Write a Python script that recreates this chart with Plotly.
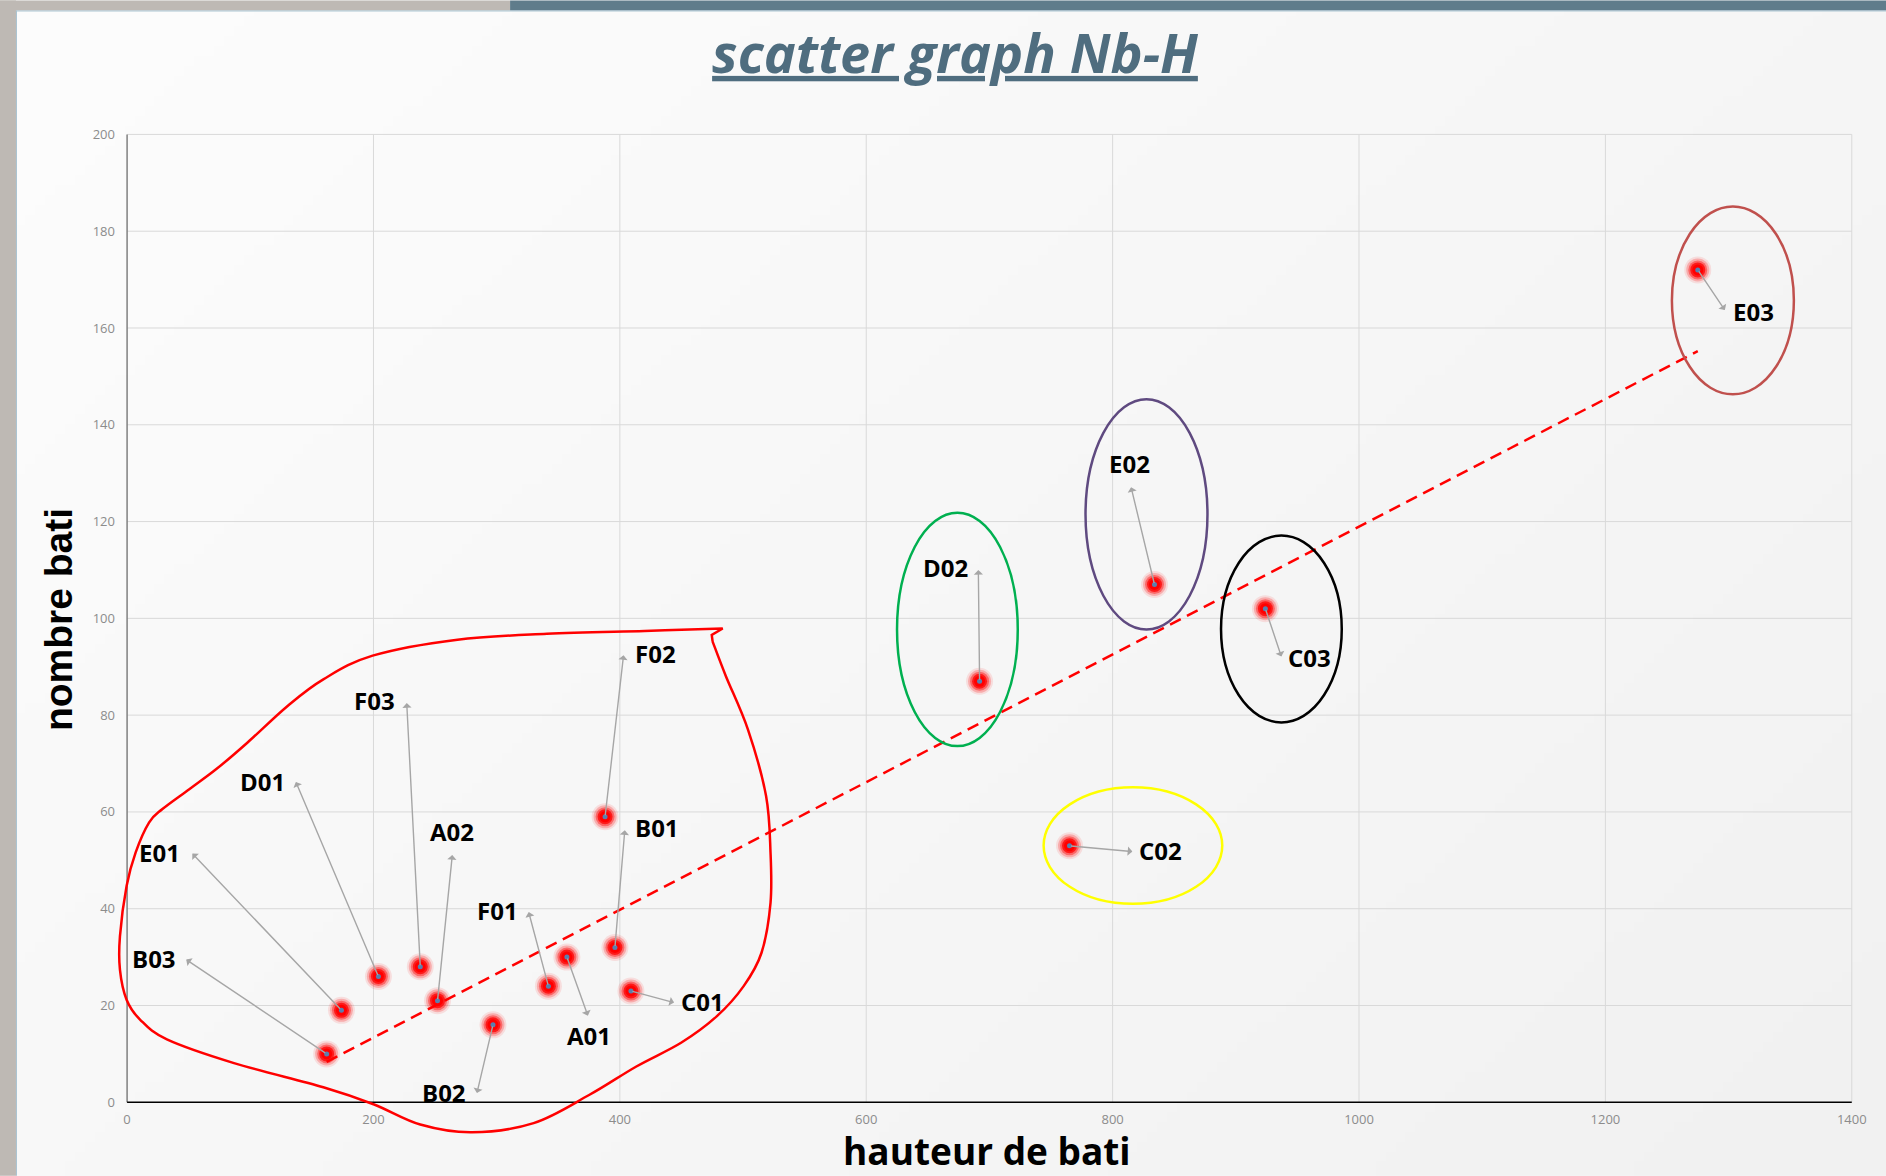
import base64
import struct
import zlib

import numpy as np
import plotly.graph_objects as go

# ---------------------------------------------------------------- data
codes = ["B03", "E01", "D01", "F03", "A02", "B02", "F01", "A01",
         "F02", "B01", "C01", "D02", "C02", "E02", "C03", "E03"]
hauteur = [162, 174, 204, 238, 252, 297, 342, 357,
           388, 396, 409, 692, 765, 834, 924, 1275]
nombre = [10, 19, 26, 28, 21, 16, 24, 30,
          59, 32, 23, 87, 53, 107, 102, 172]

x_ticks = [0, 200, 400, 600, 800, 1000, 1200, 1400]
y_ticks = [0, 20, 40, 60, 80, 100, 120, 140, 160, 180, 200]

# ---------------------------------------------------------------- label layout
# arrow tip (end of the grey leader) and text centre, in axis units
label_tip = {
    "B03": (48, 29.5), "E01": (53, 51.4), "D01": (137, 66.2), "F03": (227, 82.5),
    "A02": (264, 51.1), "B02": (284, 1.9), "F01": (326, 39.3), "A01": (374, 17.9),
    "F02": (403, 92.4), "B01": (404, 56.2), "C01": (444, 20.6), "D02": (691, 110),
    "C02": (816, 51.8), "E02": (815, 127.1), "C03": (937, 92.1), "E03": (1297, 163.7),
}
label_text = {
    "B03": (22, 29.7), "E01": (26, 51.6), "D01": (110, 66.3), "F03": (201, 83),
    "A02": (264, 55.9), "B02": (257, 2.1), "F01": (301, 39.7), "A01": (375, 13.8),
    "F02": (429, 92.8), "B01": (430, 56.7), "C01": (467, 20.9), "D02": (664, 110.6),
    "C02": (839, 52), "E02": (814, 131.9), "C03": (960, 92), "E03": (1320, 163.4),
}

# hand-drawn group outlines: (x0, x1, y0, y1, colour)
ellipses = [
    (625, 723, 73.6, 121.8, "#00B050"),
    (778, 877, 97.7, 145.3, "#5F4A80"),
    (888, 986, 78.5, 117.1, "#000000"),
    (744, 889, 41.0, 65.1, "#FFFF00"),
    (1254, 1353, 146.3, 185.1, "#C0504D"),
]

# free-hand outline around the low-rise cluster (smooth part)
cluster_outline = [
    (475.3, 95.2), (486, 88.1), (504, 77), (518.7, 63.3), (522.3, 51.6),
    (522.3, 41.2), (515, 30.9), (500.5, 24), (478.8, 17.8), (449.7, 12.3),
    (413.4, 7.4), (375, 1.5), (330, -4.3), (280, -6.2), (238, -4.6),
    (200, -0.4), (159.3, 3.1), (86.8, 8.1), (32.3, 13.0), (10.5, 17.1),
    (-0.4, 21.2), (-5.8, 27.4), (-5.8, 34.3), (-0.4, 44.7), (6.9, 51.6),
    (17.8, 57.8), (28.7, 60.6), (50.5, 64.7), (72.2, 68.8), (97.6, 74.3),
    (130.3, 81.9), (159.3, 87.4), (199.3, 92.3), (268.2, 95.6), (340.8, 96.8),
    (420, 97.4), (483.5, 97.9),
]
# the pen's little hook where the stroke closes
cluster_hook = [(474.6, 96.6), (475.3, 95.2)]

# ---------------------------------------------------------------- geometry
W, H = 1886, 1176
X_RANGE = [-9, 1401]
Y_RANGE = [-8, 200.5]
M_L, M_R, M_T, M_B = 116, 33.4, 131.6, 34.8
PW, PH = W - M_L - M_R, H - M_T - M_B


def px_x(px):
    return (px - M_L) / PW


def px_y(py):
    return (H - M_B - py) / PH


def smooth_path(pts, tail=()):
    """Catmull-Rom spline through pts as an SVG path, then straight tail segments."""
    p = np.asarray(pts, dtype=float)
    out = [f"M {p[0][0]:.2f},{p[0][1]:.2f}"]
    n = len(p)
    for i in range(n - 1):
        p0 = p[i - 1] if i > 0 else p[i]
        p1, p2 = p[i], p[i + 1]
        p3 = p[i + 2] if i + 2 < n else p[i + 1]
        c1 = p1 + (p2 - p0) / 6.0
        c2 = p2 - (p3 - p1) / 6.0
        out.append(f"C {c1[0]:.2f},{c1[1]:.2f} {c2[0]:.2f},{c2[1]:.2f} {p2[0]:.2f},{p2[1]:.2f}")
    for x, y in tail:
        out.append(f"L {x:.2f},{y:.2f}")
    return " ".join(out)


def png_uri(rgb):
    h, w, _ = rgb.shape
    raw = b"".join(b"\x00" + rgb[r].tobytes() for r in range(h))

    def chunk(tag, data):
        c = struct.pack(">I", len(data)) + tag + data
        return c + struct.pack(">I", zlib.crc32(tag + data) & 0xFFFFFFFF)

    png = (b"\x89PNG\r\n\x1a\n"
           + chunk(b"IHDR", struct.pack(">IIBBBBB", w, h, 8, 2, 0, 0, 0))
           + chunk(b"IDAT", zlib.compress(raw, 9))
           + chunk(b"IEND", b""))
    return "data:image/png;base64," + base64.b64encode(png).decode()


# soft diagonal slide background
gw, gh = 190, 118
gx, gy = np.meshgrid(np.arange(gw) / gw, np.arange(gh) / gh)
t = np.clip(0.6 * gx + 0.4 * gy, 0, 1)
shade = (253 - 12 * t).astype(np.uint8)
bg = np.dstack([shade, shade, shade]).astype(np.uint8)

# ---------------------------------------------------------------- figure
fig = go.Figure()

# linear trend line over the observed range
slope, intercept = np.polyfit(hauteur, nombre, 1)
tx = np.array([min(hauteur), max(hauteur)], dtype=float)
fig.add_trace(go.Scatter(
    x=tx, y=slope * tx + intercept, mode="lines",
    line=dict(color="#FF0000", width=2.5, dash="12px,7px"),
    hoverinfo="skip", showlegend=False,
))

# glowing red points with a small blue core
for size, colour in [(27, "rgba(255,0,0,0.10)"), (23, "rgba(255,0,0,0.22)"),
                     (19, "rgba(255,0,0,0.40)"), (15, "rgba(255,0,0,0.75)"),
                     (11, "#FF0000"), (5, "#5B7FAE")]:
    fig.add_trace(go.Scatter(
        x=hauteur, y=nombre, mode="markers",
        marker=dict(size=size, color=colour, line=dict(width=0)),
        text=codes, hoverinfo="text" if size == 5 else "skip", showlegend=False,
    ))

shapes = []
# gridlines and axis lines stop at the origin
for xv in x_ticks[1:]:
    shapes.append(dict(type="line", xref="x", yref="y", x0=xv, x1=xv, y0=0, y1=200,
                       line=dict(color="#D9D9D9", width=1), layer="below"))
for yv in y_ticks[1:]:
    shapes.append(dict(type="line", xref="x", yref="y", x0=0, x1=1400, y0=yv, y1=yv,
                       line=dict(color="#D9D9D9", width=1), layer="below"))
shapes.append(dict(type="line", xref="x", yref="y", x0=0, x1=0, y0=0, y1=200,
                   line=dict(color="#808080", width=1.5), layer="below"))
shapes.append(dict(type="line", xref="x", yref="y", x0=0, x1=1400, y0=0, y1=0,
                   line=dict(color="#000000", width=1.5), layer="below"))

for x0, x1, y0, y1, colour in ellipses:
    shapes.append(dict(type="circle", xref="x", yref="y", x0=x0, x1=x1, y0=y0, y1=y1,
                       line=dict(color=colour, width=2.5)))
shapes.append(dict(type="path", xref="x", yref="y",
                   path=smooth_path(cluster_outline, cluster_hook),
                   line=dict(color="#FF0000", width=2.5)))

# slide frame: grey left strip and top bar
shapes += [
    dict(type="rect", xref="paper", yref="paper", x0=px_x(0), x1=px_x(16),
         y0=px_y(H), y1=px_y(0), fillcolor="#BEB9B4", line=dict(width=0), layer="below"),
    dict(type="line", xref="paper", yref="paper", x0=px_x(16.5), x1=px_x(16.5),
         y0=px_y(H), y1=px_y(10), line=dict(color="#A9C3D1", width=1), layer="below"),
    dict(type="rect", xref="paper", yref="paper", x0=px_x(0), x1=px_x(510),
         y0=px_y(10), y1=px_y(0), fillcolor="#BEB9B4", line=dict(width=0), layer="below"),
    dict(type="rect", xref="paper", yref="paper", x0=px_x(510), x1=px_x(W),
         y0=px_y(10), y1=px_y(0), fillcolor="#5F7C8B", line=dict(width=0), layer="below"),
    dict(type="line", xref="paper", yref="paper", x0=px_x(16), x1=px_x(W),
         y0=px_y(10.5), y1=px_y(10.5), line=dict(color="#A9C3D1", width=1), layer="below"),
]

annotations = []
label_font = dict(family="Open Sans, Liberation Sans, sans-serif", size=24,
                  color="#000000", weight="bold")
for code, hx, ny in zip(codes, hauteur, nombre):
    tip = label_tip[code]
    annotations.append(dict(
        x=tip[0], y=tip[1], xref="x", yref="y", ax=hx, ay=ny, axref="x", ayref="y",
        text="", showarrow=True, arrowhead=1, arrowsize=1.1, arrowwidth=1.4,
        arrowcolor="#A6A6A6", standoff=0, startstandoff=0,
    ))
    lx, ly = label_text[code]
    annotations.append(dict(
        x=lx, y=ly, xref="x", yref="y", text=code, showarrow=False,
        xanchor="center", yanchor="middle", font=label_font,
    ))

annotations.append(dict(
    x=698, y=px_y(1151), xref="x", yref="paper", text="hauteur de bati",
    showarrow=False, xanchor="center", yanchor="middle",
    font=dict(family="Open Sans, sans-serif", size=37, color="#000000", weight="bold"),
))
annotations.append(dict(
    x=px_x(58), y=px_y(619), xref="paper", yref="paper", text="nombre bati",
    showarrow=False, textangle=-90, xanchor="center", yanchor="middle",
    font=dict(family="Liberation Sans, Arial, sans-serif", size=39, color="#000000",
              weight="bold"),
))

tick_font = dict(family="Open Sans, sans-serif", size=13, color="#8C8C8C")

fig.update_layout(
    width=W, height=H, autosize=False,
    margin=dict(l=M_L, r=M_R, t=M_T, b=M_B, pad=0),
    paper_bgcolor="#FAFAFA", plot_bgcolor="rgba(0,0,0,0)",
    title=dict(
        text="<u>scatter graph Nb-H</u>", x=955 / W, y=1 - 54 / H,
        xref="container", yref="container", xanchor="center", yanchor="middle",
        font=dict(family="Open Sans, sans-serif", size=54, color="#4F6D7F",
                  weight="bold", style="italic"),
    ),
    xaxis=dict(range=X_RANGE, tickvals=x_ticks, ticktext=[str(v) for v in x_ticks],
               showgrid=False, zeroline=False, showline=False, ticks="",
               tickfont=tick_font, ticklabelstandoff=-31),
    yaxis=dict(range=Y_RANGE, tickvals=y_ticks, ticktext=[str(v) for v in y_ticks],
               showgrid=False, zeroline=False, showline=False, ticks="",
               tickfont=tick_font),
    shapes=shapes,
    annotations=annotations,
    images=[dict(source=png_uri(bg), xref="paper", yref="paper",
                 x=px_x(0), y=px_y(0), sizex=W / PW, sizey=H / PH,
                 xanchor="left", yanchor="top", sizing="stretch", layer="below")],
    showlegend=False,
)

fig.write_html("out.html")
